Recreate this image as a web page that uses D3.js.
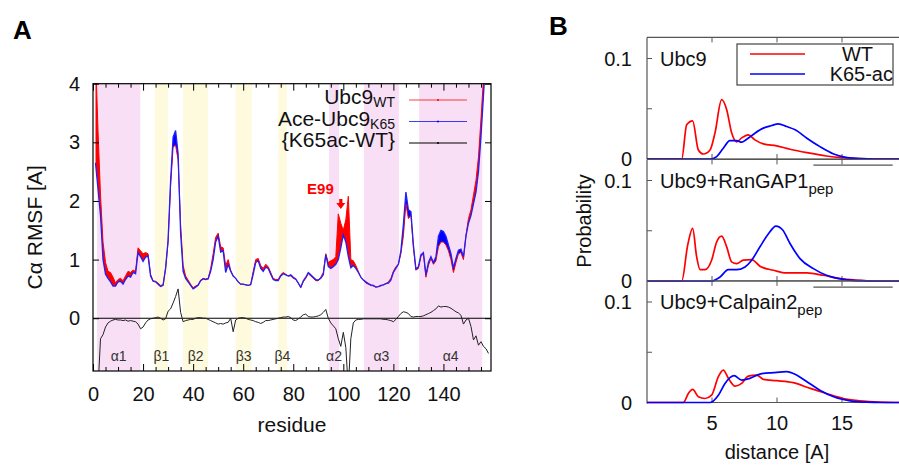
<!DOCTYPE html>
<html><head><meta charset="utf-8">
<script src="https://cdn.jsdelivr.net/npm/d3@7"></script>
<style>body{margin:0;background:#fff}svg{display:block}text{font-family:"Liberation Sans",Arial,sans-serif}</style>
</head><body><svg id="c" width="899" height="466"></svg>
<script>
// ---------- Panel A data ----------
const residues = d3.range(1, 159);
const rmsfWT = [
4.50,3.20,2.10,1.30,0.95,0.80,0.78,0.70,0.60,0.66,
0.68,0.64,0.72,0.80,0.78,0.82,0.80,1.20,1.15,1.10,
1.12,1.10,0.75,0.64,0.63,0.60,0.56,0.57,0.85,1.30,
2.25,2.92,2.95,2.70,1.60,0.90,0.72,0.65,0.58,0.52,
0.55,0.57,0.65,0.68,0.67,0.68,0.85,1.10,1.38,1.45,
1.22,1.20,0.90,1.00,0.82,0.72,0.68,0.62,0.58,0.58,
0.57,0.56,0.58,0.80,1.00,1.02,0.90,0.85,0.92,0.88,
0.78,0.68,0.66,0.66,0.74,0.78,0.75,0.72,0.72,0.68,
0.66,0.60,0.52,0.62,0.68,0.76,0.72,0.68,0.64,0.64,
0.70,0.78,1.10,0.95,0.98,1.00,1.05,1.78,1.62,1.50,
1.68,2.08,1.00,0.98,0.90,0.80,0.70,0.65,0.60,0.58,
0.56,0.55,0.53,0.54,0.55,0.57,0.59,0.62,0.68,0.80,
0.88,0.92,1.10,1.40,1.95,1.70,1.75,1.20,0.82,0.85,
1.05,1.10,0.70,0.90,1.02,0.92,0.98,1.22,1.30,1.30,
1.25,1.15,1.00,0.78,0.95,1.10,1.12,1.00,1.42,1.70,
1.85,2.10,2.35,2.75,3.40,4.10,4.80,5.20];
const rmsfK65 = [
2.65,2.20,1.75,1.00,0.75,0.68,0.62,0.55,0.55,0.62,
0.63,0.58,0.66,0.72,0.70,0.78,0.76,1.12,1.05,0.97,
1.04,1.06,0.72,0.63,0.62,0.58,0.54,0.56,0.85,1.33,
2.35,3.09,3.20,2.81,1.45,0.80,0.68,0.62,0.56,0.50,
0.53,0.56,0.64,0.67,0.66,0.67,0.80,1.00,1.30,1.40,
1.13,1.15,0.78,0.92,0.80,0.72,0.68,0.62,0.58,0.58,
0.57,0.56,0.57,0.75,0.95,0.98,0.85,0.80,0.87,0.85,
0.75,0.66,0.64,0.64,0.72,0.76,0.74,0.72,0.74,0.70,
0.67,0.60,0.53,0.64,0.70,0.78,0.74,0.70,0.66,0.65,
0.68,0.74,1.08,0.88,0.85,0.88,0.92,1.00,1.20,1.42,
1.30,1.05,0.86,0.90,0.85,0.78,0.70,0.65,0.62,0.59,
0.57,0.56,0.53,0.54,0.56,0.57,0.59,0.60,0.65,0.78,
0.85,0.92,1.15,1.60,2.15,1.85,1.82,1.25,0.84,0.88,
1.08,1.12,0.74,0.95,1.05,0.95,1.05,1.40,1.50,1.48,
1.40,1.25,1.10,0.86,1.02,1.16,1.18,1.05,1.40,1.62,
1.75,1.95,2.15,2.50,3.10,3.80,4.50,5.00];
const diffK65WT = [
-1.80,-1.20,-0.35,-0.28,-0.15,-0.08,-0.05,-0.03,-0.02,-0.03,
-0.03,-0.04,-0.03,-0.05,-0.04,-0.05,-0.06,-0.10,-0.18,-0.15,
-0.08,-0.03,-0.01,0.00,0.01,0.02,0.00,-0.03,-0.01,0.12,
0.16,0.26,0.37,0.50,0.10,-0.06,-0.04,-0.03,-0.02,-0.02,
0.00,0.01,0.01,0.00,0.00,-0.02,-0.04,-0.06,-0.08,-0.10,
-0.09,-0.10,-0.08,-0.07,0.00,-0.23,-0.03,0.00,0.01,0.01,
0.00,-0.02,-0.03,-0.04,-0.06,-0.07,-0.09,-0.07,-0.04,-0.04,
-0.03,-0.02,-0.01,0.00,0.01,0.02,0.02,0.03,0.01,-0.03,
-0.04,-0.01,0.02,0.06,0.07,0.03,0.02,0.02,0.03,0.04,
0.06,0.10,0.15,0.00,-0.08,-0.13,-0.18,-0.35,-0.48,-0.24,
-0.50,-1.20,-0.35,-0.08,-0.03,-0.02,-0.02,-0.01,-0.01,-0.01,
-0.01,-0.01,-0.01,-0.01,-0.01,-0.02,-0.02,-0.03,-0.04,-0.06,
-0.02,0.03,0.08,0.11,0.10,0.08,0.03,0.02,0.03,0.03,
0.03,0.04,0.06,0.08,0.10,0.13,0.16,0.21,0.19,0.20,
0.20,0.19,0.17,0.14,0.11,0.09,0.05,-0.10,-0.03,0.00,
-0.14,-0.37,-0.30,-0.46,-0.40,-0.48,-0.52,-0.60];
const helixRanges = [[1.6,18.9,"α1"],[94.3,98.3,"α2"],[108.2,122.2,"α3"],[130.3,155.5,"α4"]];
const strandRanges = [[24.7,30.0,"β1"],[36.0,46.0,"β2"],[57.0,63.4,"β3"],[74.0,77.4,"β4"]];
const xTicksA = [0,20,40,60,80,100,120,140];
const yTicksA = [0,1,2,3,4];
const legendA = [["Ubc9","WT","#ff0000"],["Ace-Ubc9","K65","#0000ff"],["{K65ac-WT}","","#000000"]];

// ---------- Panel B data ([distance, probability]) ----------
const ubc9WT = [[0,0],[2.67,0],[3.05,0.034],[3.51,0.038],[3.95,0.009],[4.33,0.005],[4.85,0.009],[5.23,0.026],[5.74,0.059],[6.13,0.049],[6.51,0.026],[6.9,0.017],[7.28,0.021],[7.79,0.024],[8.3,0.019],[8.95,0.015],[9.97,0.013],[11.0,0.0097],[12.3,0.0063],[13.8,0.003],[15,0.0013],[16.4,0.0003],[17.5,0],[20,0]];
const ubc9K65 = [[0,0],[4.92,0],[5.36,0.0023],[5.87,0.0107],[6.38,0.0183],[6.9,0.0183],[7.28,0.0167],[7.67,0.0197],[8.3,0.0257],[8.95,0.0307],[9.59,0.0333],[10.1,0.035],[10.74,0.0323],[11.4,0.029],[12.3,0.0207],[13.3,0.0123],[14.36,0.005],[15.4,0.0013],[16.4,0.0003],[17.5,0],[20,0]];
const rangapWT = [[0,0],[2.67,0],[3.13,0.0357],[3.51,0.0523],[3.82,0.024],[4.08,0.0113],[4.46,0.0113],[4.97,0.0207],[5.36,0.039],[5.74,0.0447],[6.13,0.034],[6.51,0.019],[6.9,0.0173],[7.41,0.0207],[8.05,0.0213],[8.69,0.0147],[9.72,0.0107],[10.74,0.008],[12.3,0.008],[13.56,0.0057],[14.85,0.0023],[16.4,0.0007],[17.5,0],[20,0]];
const rangapK65 = [[0,0],[4.97,0],[5.62,0.004],[6.26,0.0113],[6.9,0.0113],[7.54,0.014],[8.05,0.0207],[8.69,0.034],[9.33,0.0467],[9.92,0.0547],[10.44,0.0507],[11.0,0.0373],[11.77,0.0223],[12.8,0.0123],[13.8,0.0057],[15.1,0.0017],[16.4,0.0003],[17.5,0],[20,0]];
const calpWT = [[0,0],[2.8,0],[3.18,0.009],[3.51,0.013],[3.95,0.0057],[4.46,0.004],[4.97,0.0073],[5.49,0.0257],[5.87,0.0323],[6.26,0.024],[6.77,0.0163],[7.28,0.019],[7.79,0.0263],[8.43,0.0273],[8.95,0.023],[9.97,0.0217],[11.25,0.0197],[12.56,0.014],[13.8,0.009],[15.1,0.004],[16.4,0.0017],[17.9,0.0003],[19,0],[20,0]];
const calpK65 = [[0,0],[4.85,0],[5.49,0.0073],[6.0,0.019],[6.7,0.0267],[7.28,0.0223],[7.92,0.024],[8.69,0.0283],[9.72,0.0297],[10.74,0.0307],[11.5,0.0273],[12.3,0.0207],[13.3,0.0123],[14.36,0.0057],[15.64,0.0017],[16.9,0.0003],[18,0],[20,0]];
const panelNames = ["Ubc9","Ubc9+RanGAP1","Ubc9+Calpain2"];
const panelSubs = ["","pep","pep"];
const xTicksB = [5,10,15];
const legendB = [["WT","#ff0000"],["K65-ac","#0000ff"]];

const svg = d3.select("#c");

// ================= PANEL A =================
const xA = d3.scaleLinear().domain([0,159]).range([93,491]);
const yA = d3.scaleLinear().domain([-0.9,4]).range([371,83.7]);
svg.append("defs").append("clipPath").attr("id","clipA").append("rect")
  .attr("x",xA(0)).attr("y",yA(4)).attr("width",xA(159)-xA(0)).attr("height",yA(-0.9)-yA(4));
const gA = svg.append("g");
const plotA = gA.append("g").attr("clip-path","url(#clipA)");
helixRanges.forEach(h=>plotA.append("rect").attr("x",xA(h[0])).attr("y",yA(4)).attr("width",xA(h[1])-xA(h[0])).attr("height",yA(-0.9)-yA(4)).attr("fill","#f8dff5"));
strandRanges.forEach(h=>plotA.append("rect").attr("x",xA(h[0])).attr("y",yA(4)).attr("width",xA(h[1])-xA(h[0])).attr("height",yA(-0.9)-yA(4)).attr("fill","#fdfadd"));

const rows = residues.map((r,i)=>({r, w:rmsfWT[i], k:rmsfK65[i], d:diffK65WT[i]}));
plotA.append("path").datum(rows).attr("fill","#ff0000")
  .attr("d", d3.area().x(d=>xA(d.r)).y0(d=>yA(d.k)).y1(d=>yA(Math.max(d.w,d.k))));
plotA.append("path").datum(rows).attr("fill","#0000ff")
  .attr("d", d3.area().x(d=>xA(d.r)).y0(d=>yA(d.w)).y1(d=>yA(Math.max(d.w,d.k))));
plotA.append("path").datum(rows).attr("fill","none").attr("stroke","#ff0000").attr("stroke-width",1)
  .attr("d", d3.line().x(d=>xA(d.r)).y(d=>yA(d.w)));
plotA.append("path").datum(rows).attr("fill","none").attr("stroke","#2020ff").attr("stroke-width",1.3)
  .attr("d", d3.line().x(d=>xA(d.r)).y(d=>yA(d.k)));
plotA.append("line").attr("x1",xA(0)).attr("x2",xA(159)).attr("y1",yA(0)).attr("y2",yA(0)).attr("stroke","#000").attr("stroke-width",1.2);
plotA.append("path").datum(rows).attr("fill","none").attr("stroke","#222").attr("stroke-width",1)
  .attr("d", d3.line().x(d=>xA(d.r)).y(d=>yA(d.d)));

// secondary structure labels
helixRanges.concat(strandRanges).forEach(h=>gA.append("text").attr("x",xA((h[0]+h[1])/2)).attr("y",361)
  .attr("text-anchor","middle").attr("font-size",14).attr("fill","#333").text(h[2]));

// axes
const minorX = d3.range(5,160,5).filter(v=>v%20!==0);
const axStyle = g=>{g.select(".domain").remove(); g.selectAll("line").attr("stroke","#000"); g.selectAll("text").attr("font-size",20).attr("fill","#111").attr("font-family","'Liberation Sans',Arial,sans-serif");};
gA.append("g").attr("transform",`translate(0,${yA(-0.9)})`).call(d3.axisBottom(xA).tickValues(xTicksA).tickSize(-7).tickSizeOuter(0).tickPadding(16).tickFormat(d3.format("d"))).call(axStyle);
gA.append("g").attr("transform",`translate(0,${yA(-0.9)})`).call(d3.axisBottom(xA).tickValues(minorX).tickSize(-4).tickSizeOuter(0).tickFormat("")).call(axStyle);
gA.append("g").attr("transform",`translate(0,${yA(4)})`).call(d3.axisTop(xA).tickValues(xTicksA).tickSize(-7).tickSizeOuter(0).tickFormat("")).call(axStyle);
gA.append("g").attr("transform",`translate(0,${yA(4)})`).call(d3.axisTop(xA).tickValues(minorX).tickSize(-4).tickSizeOuter(0).tickFormat("")).call(axStyle);
gA.append("g").attr("transform",`translate(${xA(0)},0)`).call(d3.axisLeft(yA).tickValues(yTicksA).tickSize(-6).tickSizeOuter(0).tickPadding(13).tickFormat(d3.format("d"))).call(axStyle);
gA.append("g").attr("transform",`translate(${xA(159)},0)`).call(d3.axisRight(yA).tickValues(yTicksA).tickSize(-6).tickSizeOuter(0).tickFormat("")).call(axStyle);
gA.append("rect").attr("x",xA(0)).attr("y",yA(4)).attr("width",xA(159)-xA(0)).attr("height",yA(-0.9)-yA(4)).attr("fill","none").attr("stroke","#000").attr("stroke-width",1.2);

// labels
gA.append("text").attr("transform",`translate(42,${(yA(4)+yA(-0.9))/2}) rotate(-90)`).attr("text-anchor","middle").attr("font-size",21).attr("fill","#111").text("Cα RMSF [A]");
gA.append("text").attr("x",(xA(0)+xA(159))/2).attr("y",432).attr("text-anchor","middle").attr("font-size",21).attr("fill","#111").text("residue");

// legend A
legendA.forEach((l,i)=>{
  const yb = 104 + i*21.5;
  const t = gA.append("text").attr("x",395).attr("y",yb).attr("text-anchor","end").attr("font-size",21).attr("fill","#111");
  t.append("tspan").text(l[0]);
  if(l[1]) t.append("tspan").attr("font-size",14).attr("dy",3).text(l[1]);
  gA.append("line").attr("x1",409).attr("x2",467).attr("y1",yb-4).attr("y2",yb-4).attr("stroke",l[2]).attr("stroke-width",1).attr("opacity",i===2?1:0.75);
  gA.append("circle").attr("cx",438).attr("cy",yb-4).attr("r",1).attr("fill",l[2]);
});

// E99 annotation
const xE = xA(99);
gA.append("text").attr("x",xE-7).attr("y",193.5).attr("text-anchor","end").attr("font-size",15).attr("font-weight","bold").attr("fill","#ff0000").text("E99");
gA.append("path").attr("fill","#ff0000")
  .attr("d",`M${xE-1.6},199 L${xE+1.6},199 L${xE+1.6},203 L${xE+4.5},203 L${xE},209 L${xE-4.5},203 L${xE-1.6},203 Z`);

svg.append("text").attr("x",13).attr("y",39).attr("font-size",26).attr("font-weight","bold").attr("fill","#000").text("A");

// ================= PANEL B =================
const xB = d3.scaleLinear().domain([0,20]).range([647,907]);
const panelData = [[ubc9WT,ubc9K65],[rangapWT,rangapK65],[calpWT,calpK65]];
const zeros = [159,281,402.5];
const gB = svg.append("g");
const gray = "#555";
panelData.forEach((pd,i)=>{
  const y = d3.scaleLinear().domain([0,0.1]).range([zeros[i], zeros[i]-100.5]);
  const g = gB.append("g");
  const top = y(0.121);
  if(i<2) g.append("line").attr("x1",xB(12.8)).attr("x2",xB(18.9)).attr("y1",y(-0.006)).attr("y2",y(-0.006)).attr("stroke",gray).attr("stroke-width",1.3);
  g.append("line").attr("x1",xB(0)).attr("x2",899).attr("y1",top).attr("y2",top).attr("stroke",gray).attr("stroke-width",1.2);
  g.append("line").attr("x1",xB(0)).attr("x2",xB(0)).attr("y1",top).attr("y2",y(0)+(i===2?1:0)).attr("stroke",gray).attr("stroke-width",1.2);
  g.append("line").attr("x1",xB(0)).attr("x2",899).attr("y1",y(0)).attr("y2",y(0)).attr("stroke",gray).attr("stroke-width",1.2);
  xTicksB.forEach(t=>{
    g.append("line").attr("x1",xB(t)).attr("x2",xB(t)).attr("y1",top).attr("y2",top+5).attr("stroke",gray);
    g.append("line").attr("x1",xB(t)).attr("x2",xB(t)).attr("y1",y(0)).attr("y2",y(0)-5).attr("stroke",gray);
  });
  [0.05,0.1].forEach(v=>g.append("line").attr("x1",xB(0)).attr("x2",xB(0)+5).attr("y1",y(v)).attr("y2",y(v)).attr("stroke",gray));
  [[0.1,"0.1"],[0,"0"]].forEach(v=>g.append("text").attr("x",632).attr("y",y(v[0])).attr("dy","0.36em").attr("text-anchor","end").attr("font-size",20).attr("fill","#111").text(v[1]));
  const line = d3.line().x(d=>xB(d[0])).y(d=>y(d[1])).curve(d3.curveMonotoneX);
  g.append("path").datum(pd[0]).attr("fill","none").attr("stroke","#ff0000").attr("stroke-width",1.7).attr("d",line);
  g.append("path").datum(pd[1]).attr("fill","none").attr("stroke","#0000ff").attr("stroke-width",1.7).attr("d",line);
  const t = g.append("text").attr("x",660).attr("y",y(0.1)+7).attr("font-size",20).attr("fill","#111");
  t.append("tspan").text(panelNames[i]);
  if(panelSubs[i]) t.append("tspan").attr("font-size",15).attr("dy",6).text(panelSubs[i]);
  if(i===2){
    xTicksB.forEach(tv=>g.append("text").attr("x",xB(tv)).attr("y",y(0)+13).attr("dy","0.71em").attr("text-anchor","middle").attr("font-size",20).attr("fill","#111").text(tv));
  }
});
// legend B
gB.append("rect").attr("x",737).attr("y",44).attr("width",156).attr("height",41).attr("fill","#fff").attr("stroke","#444").attr("stroke-width",1.2);
legendB.forEach((l,i)=>{
  const yl = 54 + i*20;
  gB.append("line").attr("x1",750).attr("x2",805).attr("y1",yl).attr("y2",yl).attr("stroke",l[1]).attr("stroke-width",1.7);
  gB.append("text").attr("x",i===0?873:893).attr("y",yl+7).attr("text-anchor","end").attr("font-size",20).attr("fill","#111").text(l[0]);
});
gB.append("text").attr("transform","translate(591,221) rotate(-90)").attr("text-anchor","middle").attr("font-size",20).attr("fill","#111").text("Probability");
gB.append("text").attr("x",777).attr("y",459).attr("text-anchor","middle").attr("font-size",20).attr("fill","#111").text("distance [A]");
svg.append("text").attr("x",549).attr("y",35).attr("font-size",26).attr("font-weight","bold").attr("fill","#000").text("B");
</script></body></html>
